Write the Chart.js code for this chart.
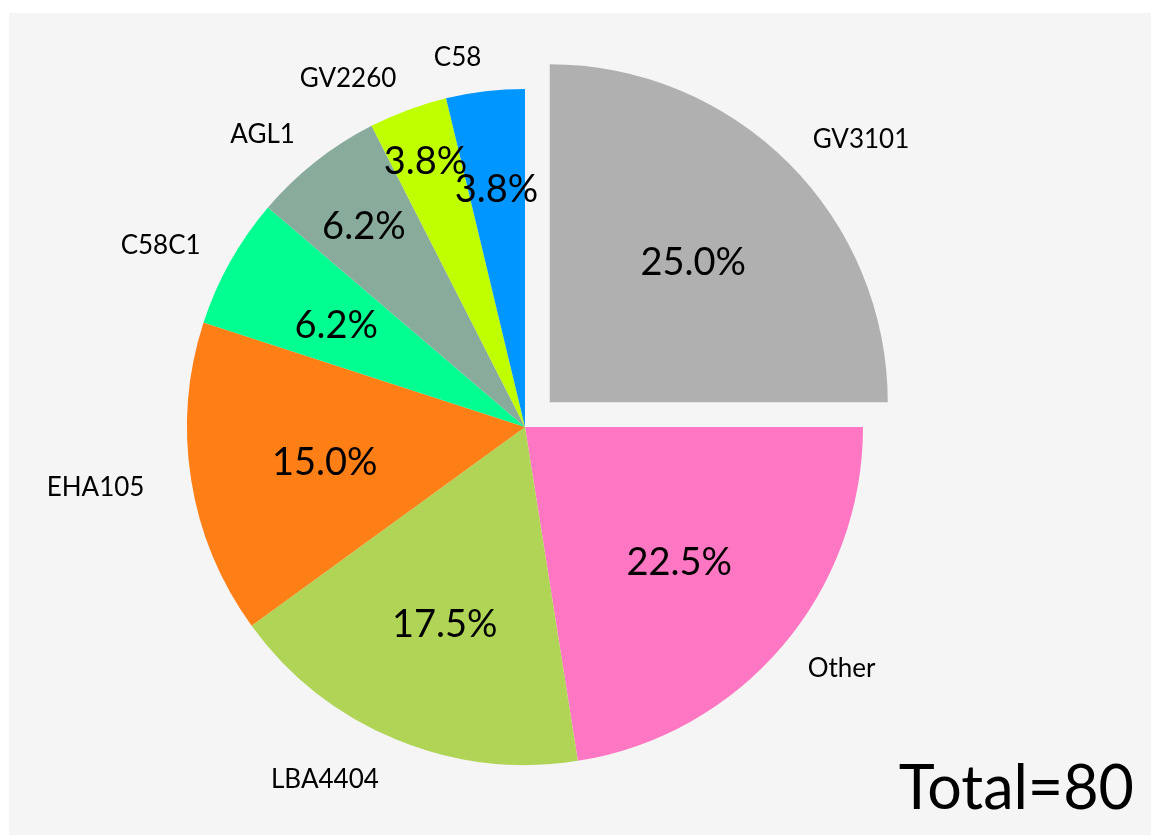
<!DOCTYPE html>
<html>
<head>
<meta charset="utf-8">
<script src="https://cdn.jsdelivr.net/npm/chart.js@4/dist/chart.umd.min.js"></script>
<style>
  html, body { margin: 0; padding: 0; background: #ffffff; }
  #frame { position: absolute; left: 9px; top: 13px; width: 1142px; height: 822px; background: #f5f5f5; }
  #wrap { position: absolute; left: 0; top: 0; width: 1153px; height: 835px; }
</style>
</head>
<body>
<div id="frame"></div>
<div id="wrap"><canvas id="strainPie" width="1153" height="835"></canvas></div>
<script>
// strain counts (total 80), clockwise from 12 o'clock
const strain_labels = ['GV3101', 'Other', 'LBA4404', 'EHA105', 'C58C1', 'AGL1', 'GV2260', 'C58'];
const strain_counts = [20, 18, 14, 12, 5, 5, 3, 3];
const strain_colors = ['#b0b0b0', '#ff77c3', '#b0d455', '#ff7f17', '#00ff90', '#88ab9b', '#c0ff00', '#0096ff'];
// how far out the percentage sits (fraction of radius), small slices pushed out
const pct_dist = [0.6, 0.6, 0.62, 0.6, 0.64, 0.77, 0.85, 0.72];
// how far out the name sits
const name_dist = [1.1, 1.1, 1.13, 1.14, 1.1, 1.1, 1.1, 1.1];

const FONT = 'Lato, "DejaVu Sans", sans-serif';

// one decimal, ties to even (6.25 -> 6.2)
function fmtPct(v) {
    const t = v * 10;
    let r = Math.round(t);
    if (Math.abs(t - Math.floor(t) - 0.5) < 1e-9) r = (Math.floor(t) % 2 === 0) ? Math.floor(t) : Math.floor(t) + 1;
    return (r / 10).toFixed(1) + '%';
}

const pieLabels = {
    id: 'pieLabels',
    afterDatasetsDraw(chart) {
        const ctx = chart.ctx;
        const meta = chart.getDatasetMeta(0);
        const ds = chart.data.datasets[0];
        const total = ds.data.reduce((a, b) => a + b, 0);
        ctx.save();
        ctx.fillStyle = '#000000';
        ctx.textBaseline = 'middle';
        meta.data.forEach((arc, i) => {
            const p = arc.getProps(['x', 'y', 'startAngle', 'endAngle', 'outerRadius'], true);
            const mid = (p.startAngle + p.endAngle) / 2;
            const off = (ds.offset[i] || 0) / 4;
            const cx = p.x + Math.cos(mid) * off;
            const cy = p.y + Math.sin(mid) * off;
            const r = p.outerRadius;

            // percentage inside
            ctx.font = '38px ' + FONT;
            ctx.textAlign = 'center';
            ctx.fillText(fmtPct(ds.data[i] / total * 100),
                cx + Math.cos(mid) * r * pct_dist[i], cy + Math.sin(mid) * r * pct_dist[i] + 4);

            // name outside
            ctx.font = '26px ' + FONT;
            ctx.textAlign = Math.cos(mid) > 0 ? 'left' : 'right';
            ctx.fillText(chart.data.labels[i],
                cx + Math.cos(mid) * r * name_dist[i], cy + Math.sin(mid) * r * name_dist[i]);
        });
        ctx.font = '61px ' + FONT;
        ctx.textAlign = 'right';
        ctx.textBaseline = 'alphabetic';
        ctx.fillText('Total=' + total, 1134, 809);
        ctx.restore();
    }
};

const ctx_1 = document.getElementById('strainPie').getContext('2d');
const strainPie = new Chart(ctx_1, {
    type: 'pie',
    data: {
        labels: strain_labels,
        datasets: [{
            data: strain_counts,
            backgroundColor: strain_colors,
            borderWidth: 0,
            offset: [140, 0, 0, 0, 0, 0, 0, 0]
        }]
    },
    options: {
        responsive: false,
        animation: false,
        radius: 338,
        layout: { padding: { left: 0, right: 103, top: 19, bottom: 0 } },
        plugins: {
            legend: { display: false },
            tooltip: { enabled: false }
        }
    },
    plugins: [pieLabels]
});
</script>
</body>
</html>
